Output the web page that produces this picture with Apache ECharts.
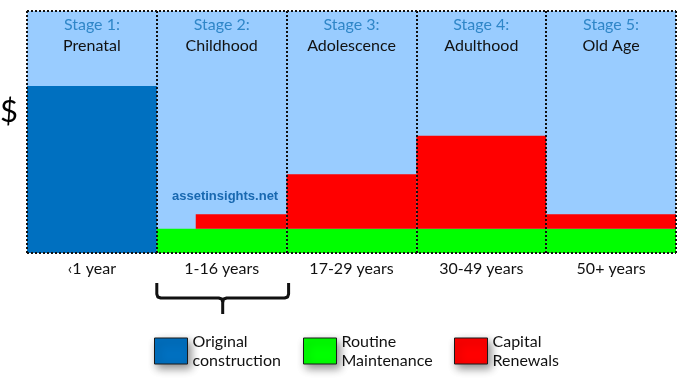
<!DOCTYPE html>
<html>
<head>
<meta charset="utf-8">
<script src="https://cdn.jsdelivr.net/npm/echarts@6/dist/echarts.min.js"></script>
<style>
  html, body { margin: 0; padding: 0; background: #fff; }
  #chart { width: 692px; height: 381px; }
</style>
</head>
<body>
<div id="chart"></div>
<script>
// ---- data ----
const stageNumbers = ['Stage 1:', 'Stage 2:', 'Stage 3:', 'Stage 4:', 'Stage 5:'];
const stageNames = ['Prenatal', 'Childhood', 'Adolescence', 'Adulthood', 'Old Age'];
const ageLabels = ['‹1 year', '1-16 years', '17-29 years', '30-49 years', '50+ years'];
const seriesNames = ['Original construction', 'Routine Maintenance', 'Capital Renewals'];
const legendLabels = ['Original\nconstruction', 'Routine\nMaintenance', 'Capital\nRenewals'];
// relative cost level per stage (0-100 scale)
const originalConstruction = [69, 0, 0, 0, 0];
const routineMaintenance = [0, 10, 10, 10, 10];
const capitalRenewals = [0, 6, 22.5, 38.5, 6];
// fraction of the stage elapsed before capital renewals begin
const capitalRenewalStart = [0, 0.3, 0, 0, 0];

const colors = ['#0070C0', '#00FF00', '#FF0000'];

// build rectangles [x0, x1, y0, y1] in axis units
function rects(values, base, startFrac) {
  const out = [];
  values.forEach((v, i) => {
    if (v > 0) {
      const b = base ? base[i] : 0;
      const s = startFrac ? startFrac[i] : 0;
      out.push([i + s, i + 1, b, b + v]);
    }
  });
  return out;
}
const dataOriginal = rects(originalConstruction);
const dataRoutine = rects(routineMaintenance);
const dataCapital = rects(capitalRenewals, routineMaintenance, capitalRenewalStart);

function renderRect(color) {
  return function (params, api) {
    const p0 = api.coord([api.value(0), api.value(3)]);
    const p1 = api.coord([api.value(1), api.value(2)]);
    return {
      type: 'rect',
      shape: { x: p0[0], y: p0[1], width: p1[0] - p0[0], height: p1[1] - p0[1] },
      style: { fill: color }
    };
  };
}

const FONT = 'Lato';
const dotted = { color: '#111', width: 2, type: [2, 2] };

const chart = echarts.init(document.getElementById('chart'));
const legendBase = {
  orient: 'horizontal',
  itemWidth: 33,
  itemHeight: 26,
  itemGap: 5,
  padding: 0,
  icon: 'rect',
  selectedMode: false,
  textStyle: { fontFamily: FONT, fontSize: 16, color: '#111', lineHeight: 19 },
  itemStyle: { borderColor: '#1a1a1a', borderWidth: 1, shadowBlur: 8, shadowColor: 'rgba(0,0,0,0.45)', shadowOffsetX: 3, shadowOffsetY: 4 },
  formatter: name => legendLabels[seriesNames.indexOf(name)]
};
chart.setOption({
  animation: false,
  backgroundColor: '#fff',
  title: {
    text: '$', left: 0, top: 96, padding: 0,
    textStyle: { fontFamily: FONT, fontSize: 31, fontWeight: 'normal', color: '#000' }
  },
  grid: {
    left: 27, right: 16, top: 11, bottom: 128,
    show: true, backgroundColor: '#99CCFF', borderWidth: 0
  },
  legend: [
    Object.assign({}, legendBase, { data: [seriesNames[0]], left: 154, top: 332 }),
    Object.assign({}, legendBase, { data: [seriesNames[1]], left: 303, top: 332 }),
    Object.assign({}, legendBase, { data: [seriesNames[2]], left: 454, top: 332 })
  ],
  xAxis: [
    {
      type: 'value', min: 0, max: 5, interval: 1, z: 5,
      axisLine: { show: false }, axisTick: { show: false }, axisLabel: { show: false },
      splitLine: { show: true, lineStyle: dotted }
    },
    {
      type: 'category', data: ageLabels, position: 'bottom',
      axisLine: { show: false }, axisTick: { show: false },
      axisLabel: { margin: 8, fontFamily: FONT, fontSize: 16, color: '#111' }
    },
    {
      type: 'category', data: stageNames, position: 'top',
      axisLine: { show: false }, axisTick: { show: false },
      axisLabel: {
        inside: true, margin: 3,
        formatter: (v, i) => '{a|' + stageNumbers[i] + '}\n{b|' + stageNames[i] + '}',
        rich: {
          a: { fontFamily: FONT, fontSize: 16, color: '#2F86C8', lineHeight: 21 },
          b: { fontFamily: FONT, fontSize: 16, color: '#111', lineHeight: 21 }
        }
      }
    }
  ],
  yAxis: {
    type: 'value', min: 0, max: 100, interval: 100, z: 5,
    axisLine: { show: false }, axisTick: { show: false }, axisLabel: { show: false },
    splitLine: { show: true, lineStyle: dotted }
  },
  series: [
    { name: seriesNames[0], type: 'custom', z: 1, itemStyle: { color: colors[0] },
      renderItem: renderRect(colors[0]), encode: { x: [0, 1], y: [2, 3] }, data: dataOriginal },
    { name: seriesNames[1], type: 'custom', z: 1, itemStyle: { color: colors[1] },
      renderItem: renderRect(colors[1]), encode: { x: [0, 1], y: [2, 3] }, data: dataRoutine },
    { name: seriesNames[2], type: 'custom', z: 1, itemStyle: { color: colors[2] },
      renderItem: renderRect(colors[2]), encode: { x: [0, 1], y: [2, 3] }, data: dataCapital }
  ]
});

// annotations: brace under stage 2 and watermark
const a = chart.convertToPixel({ xAxisIndex: 0 }, 1);
const b = chart.convertToPixel({ xAxisIndex: 0 }, 2) + 2;
const m = (a + b) / 2;
const yTop = 283, yMid = 298, yBot = 314, r = 4;
const braceStyle = { fill: null, stroke: '#111', lineWidth: 3, lineJoin: 'round', lineCap: 'butt' };
chart.setOption({
  graphic: [
    { type: 'polyline', shape: { points: [[a, yTop], [a, yMid - r], [a + 1, yMid - 1], [a + r, yMid], [m - r, yMid], [m - 1, yMid + 1], [m, yMid + r], [m, yBot]] }, style: braceStyle },
    { type: 'polyline', shape: { points: [[b, yTop], [b, yMid - r], [b - 1, yMid - 1], [b - r, yMid], [m + r, yMid], [m + 1, yMid + 1], [m, yMid + r]] }, style: braceStyle },
    { type: 'text', left: 172, top: 190, z: 10,
      style: { text: 'assetinsights.net', fill: '#1868B0', font: 'bold 13px "Liberation Sans"' } }
  ]
});
</script>
</body>
</html>
